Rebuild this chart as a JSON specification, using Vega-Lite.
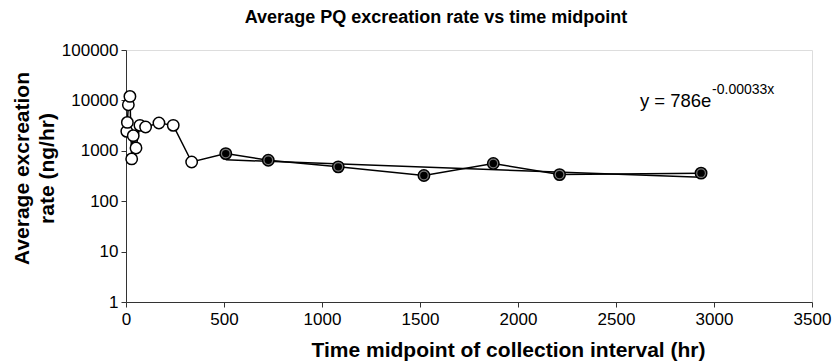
{
  "$schema": "https://vega.github.io/schema/vega-lite/v6.json",
  "width": 686,
  "height": 252,
  "autosize": "none",
  "padding": {"left": 126, "top": 50, "right": 23, "bottom": 61},
  "background": "white",
  "title": {
    "text": "Average PQ excreation rate vs time midpoint",
    "font": "Liberation Sans",
    "fontSize": 18,
    "fontWeight": "bold",
    "color": "black",
    "anchor": "middle",
    "frame": "group",
    "dx": -33,
    "offset": 14
  },
  "datasets": {
    "obs": [
      {"t": 4, "rate": 2430, "kind": "open"},
      {"t": 7, "rate": 3660, "kind": "open"},
      {"t": 12, "rate": 8200, "kind": "open"},
      {"t": 20, "rate": 12000, "kind": "open"},
      {"t": 29, "rate": 690, "kind": "open"},
      {"t": 37, "rate": 2000, "kind": "open"},
      {"t": 51, "rate": 1140, "kind": "open"},
      {"t": 71, "rate": 3200, "kind": "open"},
      {"t": 100, "rate": 2970, "kind": "open"},
      {"t": 168, "rate": 3570, "kind": "open"},
      {"t": 241, "rate": 3200, "kind": "open"},
      {"t": 335, "rate": 600, "kind": "open"},
      {"t": 509, "rate": 880, "kind": "filled"},
      {"t": 726, "rate": 650, "kind": "filled"},
      {"t": 1083, "rate": 480, "kind": "filled"},
      {"t": 1520, "rate": 323, "kind": "filled"},
      {"t": 1874, "rate": 560, "kind": "filled"},
      {"t": 2212, "rate": 337, "kind": "filled"},
      {"t": 2934, "rate": 360, "kind": "filled"}
    ],
    "trend": [
      {"t": 509, "rate": 664},
      {"t": 2934, "rate": 298}
    ],
    "eq": [
      {"t": 2622, "rate": 7500, "label": "y = 786e", "part": "main"},
      {"t": 2990, "rate": 13500, "label": "-0.00033x", "part": "sup"}
    ]
  },
  "encoding": {
    "x": {
      "field": "t",
      "type": "quantitative",
      "scale": {"domain": [0, 3500], "nice": false, "zero": false},
      "axis": {
        "values": [0, 500, 1000, 1500, 2000, 2500, 3000, 3500],
        "format": "d",
        "title": "Time midpoint of collection interval (hr)",
        "grid": false,
        "domainColor": "#333",
        "tickColor": "#333",
        "tickSize": 5,
        "labelFont": "Liberation Sans",
        "labelFontSize": 17,
        "labelColor": "black",
        "labelPadding": 4,
        "labelFlush": false,
        "titleFont": "Liberation Sans",
        "titleFontSize": 21,
        "titleFontWeight": "bold",
        "titleColor": "black",
        "titleX": 382,
        "titleY": 54,
        "titleAlign": "center",
        "titleBaseline": "alphabetic"
      }
    },
    "y": {
      "field": "rate",
      "type": "quantitative",
      "scale": {"type": "log", "domain": [1, 100000], "nice": false},
      "axis": {
        "values": [1, 10, 100, 1000, 10000, 100000],
        "format": "d",
        "title": ["Average excreation", "rate (ng/hr)"],
        "grid": false,
        "domainColor": "#333",
        "tickColor": "#333",
        "tickSize": 5,
        "labelFont": "Liberation Sans",
        "labelFontSize": 17,
        "labelColor": "black",
        "labelPadding": 3,
        "labelFlush": false,
        "titleFont": "Liberation Sans",
        "titleFontSize": 21,
        "titleFontWeight": "bold",
        "titleColor": "black",
        "titleAngle": -90,
        "titleX": -115,
        "titleY": 118,
        "titleAlign": "center",
        "titleBaseline": "top",
        "titleLineHeight": 25
      }
    }
  },
  "layer": [
    {
      "data": {"name": "trend"},
      "mark": {"type": "line", "color": "black", "strokeWidth": 1.5}
    },
    {
      "data": {"name": "obs"},
      "mark": {"type": "line", "color": "black", "strokeWidth": 1.5}
    },
    {
      "data": {"name": "obs"},
      "transform": [{"filter": "datum.kind === 'open'"}],
      "mark": {"type": "point", "shape": "circle", "filled": true, "fill": "white", "stroke": "black", "strokeWidth": 1.5, "size": 130, "opacity": 1}
    },
    {
      "data": {"name": "obs"},
      "transform": [{"filter": "datum.kind === 'filled'"}],
      "mark": {"type": "point", "shape": "circle", "filled": true, "fill": "#777", "stroke": "black", "strokeWidth": 1.5, "size": 130, "opacity": 1}
    },
    {
      "data": {"name": "obs"},
      "transform": [{"filter": "datum.kind === 'filled'"}],
      "mark": {"type": "point", "shape": "circle", "filled": true, "fill": "black", "size": 55, "opacity": 1}
    },
    {
      "data": {"name": "eq"},
      "transform": [{"filter": "datum.part === 'main'"}],
      "mark": {"type": "text", "align": "left", "baseline": "alphabetic", "font": "Liberation Sans", "fontSize": 18.5, "color": "black"},
      "encoding": {"text": {"field": "label"}}
    },
    {
      "data": {"name": "eq"},
      "transform": [{"filter": "datum.part === 'sup'"}],
      "mark": {"type": "text", "align": "left", "baseline": "alphabetic", "font": "Liberation Sans", "fontSize": 14, "color": "black"},
      "encoding": {"text": {"field": "label"}}
    }
  ]
}
